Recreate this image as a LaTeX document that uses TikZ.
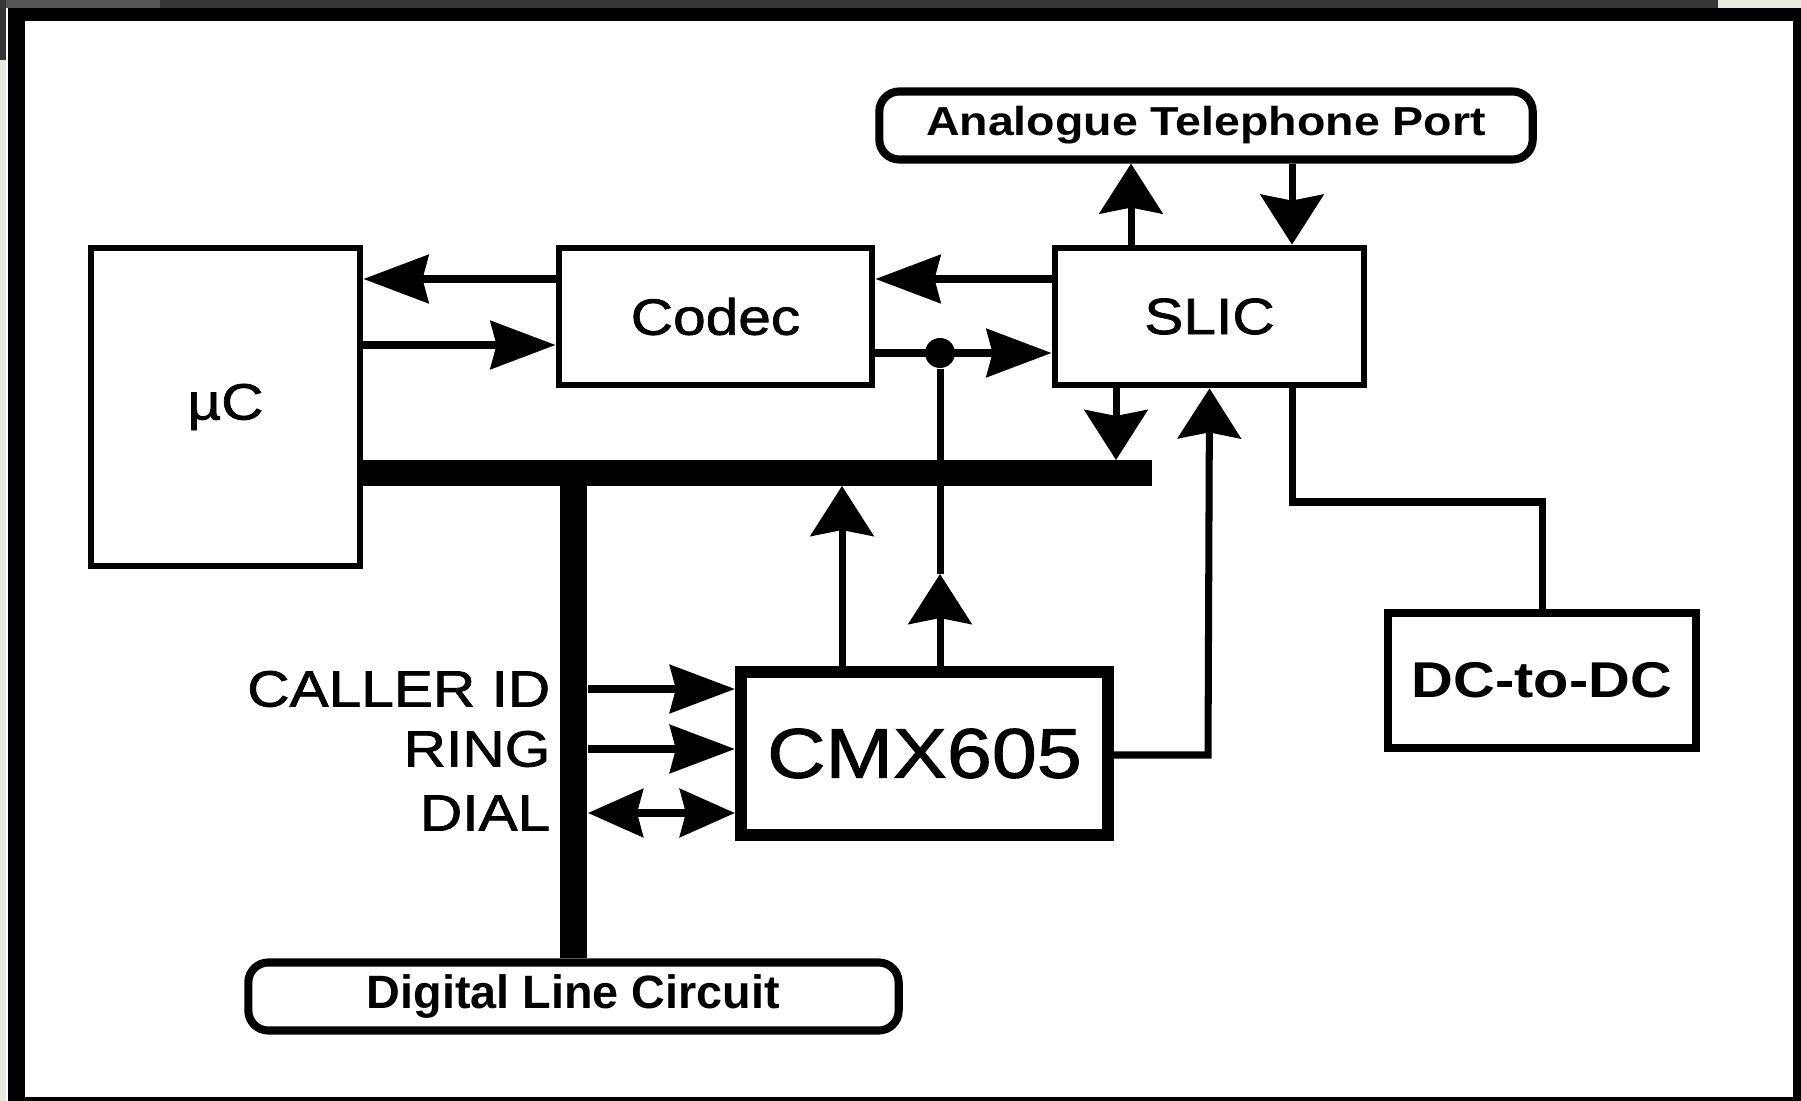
\documentclass[tikz,border=0pt]{standalone}
\usepackage{fontspec}
\setmainfont{Liberation Sans}
\newfontfamily\wide[FakeStretch=1.15, FakeBold=1.4]{Liberation Sans}
\newfontfamily\widebf[FakeStretch=1.15]{Liberation Sans Bold}
\usepackage{tikz}
\usetikzlibrary{arrows.meta,calc}

\definecolor{topgray}{HTML}{363636}
\definecolor{lefttop}{HTML}{555555}
\definecolor{beige}{HTML}{E9E9DD}

\begin{document}
\begin{tikzpicture}[x=0.01cm, y=-0.01cm, font=\wide]
	\tikzset{blk/.style={draw, line width=1.9pt, inner sep=0pt, font=\wide\fontsize{14.5}{16}\selectfont},
		port/.style={draw, line width=2.3pt, rounded corners=0.2cm, inner sep=0pt, font=\widebf\fontsize{11.5}{13}\selectfont},
		wire/.style={line width=2pt},
		bus/.style={line width=7.5pt},
		hArr/.style={wire, -{Stealth[length=6.5mm, width=4.8mm, inset=0.6mm]}},
		vArr/.style={wire, -{Stealth[length=5mm, width=6.3mm, inset=0.6mm]}},
		sig/.style={anchor=east, inner sep=0pt, font=\wide\fontsize{14.5}{16}\selectfont}}
	\useasboundingbox (0,0) rectangle (1801,1101);
	% screen frame
	\fill[black] (0,0) rectangle (1801,1101);
	\fill[topgray] (0,0) rectangle (1801,8);
	\fill[lefttop] (0,0) rectangle (160,8);
	\fill[beige] (1718,0) rectangle (1801,8);
	\fill[topgray] (0,0) rectangle (6,60);
	\fill[beige] (0,60) rectangle (6,1101);
	\fill[white] (6,8) rectangle (8,1101);
	\fill[white] (25,21) rectangle (1793,1097);

	% blocks
	\node[blk, minimum width=2.69cm, minimum height=3.18cm] (uc) at (225.5,407) {µC};
	\node[blk, minimum width=3.13cm, minimum height=1.37cm] (codec) at (715.5,316.5) {Codec};
	\node[blk, minimum width=3.09cm, minimum height=1.37cm] (slic) at (1209.5,316.5) {SLIC};
	\node[blk, line width=3.4pt, minimum width=3.67cm, minimum height=1.63cm, font=\wide\fontsize{20}{22}\selectfont] (cmx) at (924.5,753.5) {CMX605};
	\node[blk, line width=2.3pt, minimum width=3.08cm, minimum height=1.35cm, font=\widebf\fontsize{14.3}{16}\selectfont] (dcdc) at (1542,680.5) {DC-to-DC};
	\node[port, minimum width=6.53cm, minimum height=0.68cm] (atp) at (1206,125.5) {Analogue Telephone Port};
	\node[port, minimum width=6.5cm, minimum height=0.68cm, font=\bfseries\fontsize{13.3}{15}\selectfont] (dlc) at (573.5,996.5) {Digital Line Circuit};

	% signal labels
	\node[sig] (callerid) at (551,689) {CALLER ID};
	\node[sig] (ring) at (551,749) {RING};
	\node[sig] (dial) at (551,813) {DIAL};

	% helper rows and columns
	\coordinate (rowA) at (0,279);
	\coordinate (rowB) at (0,345);
	\coordinate (rowC) at (0,353);
	\coordinate (busE) at (1152,473);
	\coordinate (busN) at (0,460);
	\coordinate (busS) at (0,486);
	\coordinate (colUp) at (1131,0);
	\coordinate (colDn) at (1292,0);
	\coordinate (colBus) at (1116,0);
	\coordinate (colCmx) at (842,0);
	\coordinate (vbusE) at (588,0);
	\coordinate (tip) at (940,574);
	\coordinate (bendA) at (1208,755);
	\coordinate (bendB) at (1292,502);
	\coordinate (bendC) at (1542,502);
	\node[circle, fill, inner sep=0pt, minimum size=0.3cm] (dot) at (940,353) {};

	% buses
	\draw[bus] (uc.east |- busE) -- (busE);
	\draw[bus] (dlc.north |- busE) -- (dlc.north);

	% connectors
	\draw[vArr] (slic.north -| colUp) -- (atp.south -| colUp);
	\draw[vArr] (atp.south -| colDn) -- (slic.north -| colDn);
	\draw[hArr] (slic.west |- rowA) -- (codec.east |- rowA);
	\draw[hArr] (codec.west |- rowA) -- (uc.east |- rowA);
	\draw[hArr] (uc.east |- rowB) -- (codec.west |- rowB);
	\draw[hArr] (codec.east |- rowC) -- (slic.west |- rowC);
	\draw[vArr] (slic.south -| colBus) -- (colBus |- busN);
	\draw[vArr] (cmx.north -| colCmx) -- (colCmx |- busS);
	\draw[vArr] (cmx.north -| tip) -- (tip);
	\draw[wire] (tip) -- (dot);
	\draw[vArr] (cmx.east |- bendA) -- (bendA) -- (slic.south);
	\draw[wire] (slic.south -| bendB) -- (bendB) -- (bendC) -- (dcdc.north);
	\draw[hArr] (vbusE |- callerid) -- (cmx.west |- callerid);
	\draw[hArr] (vbusE |- ring) -- (cmx.west |- ring);
	\draw[wire, {Stealth[length=5.5mm, width=4.8mm, inset=0.6mm]}-{Stealth[length=5.5mm, width=4.8mm, inset=0.6mm]}] (vbusE |- dial) -- (cmx.west |- dial);
\end{tikzpicture}
\end{document}
